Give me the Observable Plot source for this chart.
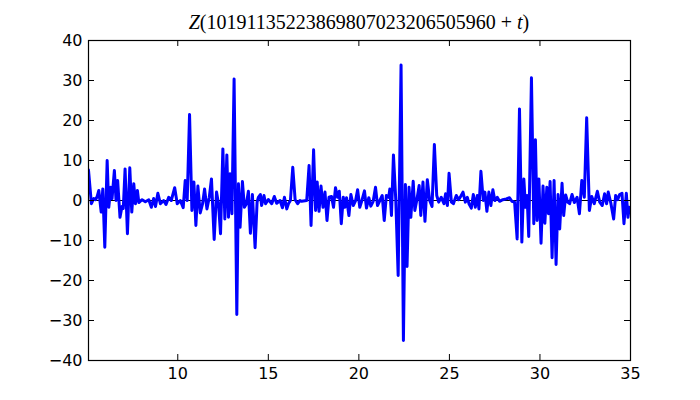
<!DOCTYPE html>
<html>
<head>
<meta charset="utf-8">
<script src="https://cdn.jsdelivr.net/npm/d3@7"></script>
<script src="https://cdn.jsdelivr.net/npm/@observablehq/plot@0.6"></script>
<style>
  html, body { margin: 0; padding: 0; background: white; }
</style>
</head>
<body>
<div id="chart"></div>
<script>
const titleParts = [
  {text: "Z", italic: true},
  {text: "(10191135223869807023206505960 + ", italic: false},
  {text: "t", italic: true},
  {text: ")", italic: false}
];
const xTicks = [10, 15, 20, 25, 30, 35];
const yTicks = [-40, -30, -20, -10, 0, 10, 20, 30, 40];
const xDomain = [5.07, 35];
const yDomain = [-40, 40];

const tValues = [
  5.07, 5.23, 5.36, 5.46, 5.55, 5.64, 5.77, 5.86, 5.97, 6.10,
  6.19, 6.30, 6.37, 6.50, 6.59, 6.68, 6.81, 6.92, 6.99, 7.09,
  7.22, 7.35, 7.46, 7.57, 7.66, 7.77, 7.85, 8.03, 8.21, 8.40,
  8.54, 8.67, 8.77, 8.90, 9.04, 9.22, 9.35, 9.50, 9.64, 9.83,
  9.97, 10.14, 10.30, 10.41, 10.52, 10.65, 10.78, 10.89, 11.00, 11.11,
  11.24, 11.37, 11.48, 11.61, 11.74, 11.86, 12.01, 12.14, 12.25, 12.36,
  12.49, 12.60, 12.71, 12.80, 12.89, 12.99, 13.11, 13.26, 13.35, 13.44,
  13.57, 13.68, 13.79, 13.90, 14.01, 14.12, 14.27, 14.38, 14.45, 14.56,
  14.63, 14.76, 14.85, 15.00, 15.19, 15.33, 15.46, 15.65, 15.78, 15.89,
  16.02, 16.11, 16.22, 16.35, 16.48, 16.62, 16.75, 16.84, 17.12, 17.25,
  17.36, 17.50, 17.61, 17.70, 17.80, 17.91, 18.02, 18.13, 18.24, 18.35,
  18.49, 18.60, 18.71, 18.82, 18.92, 19.03, 19.14, 19.23, 19.32, 19.45,
  19.56, 19.69, 19.82, 19.93, 20.05, 20.18, 20.31, 20.42, 20.55, 20.66,
  20.79, 20.92, 21.03, 21.16, 21.29, 21.40, 21.52, 21.65, 21.71, 21.80,
  21.91, 22.04, 22.17, 22.33, 22.46, 22.57, 22.66, 22.77, 22.87, 23.00,
  23.09, 23.21, 23.33, 23.42, 23.54, 23.65, 23.78, 23.91, 24.04, 24.17,
  24.30, 24.41, 24.55, 24.70, 24.79, 24.89, 24.98, 25.11, 25.22, 25.38,
  25.51, 25.62, 25.75, 25.88, 25.99, 26.08, 26.21, 26.32, 26.43, 26.54,
  26.63, 26.74, 26.87, 26.96, 27.07, 27.18, 27.29, 27.40, 27.51, 27.64,
  27.77, 27.95, 28.14, 28.32, 28.45, 28.60, 28.74, 28.87, 29.00, 29.11,
  29.20, 29.29, 29.38, 29.53, 29.66, 29.75, 29.84, 29.94, 30.06, 30.17,
  30.27, 30.38, 30.47, 30.56, 30.67, 30.78, 30.89, 31.00, 31.09, 31.22,
  31.31, 31.42, 31.53, 31.64, 31.77, 31.90, 32.05, 32.18, 32.31, 32.45,
  32.58, 32.73, 32.86, 33.00, 33.17, 33.30, 33.44, 33.57, 33.68, 33.77,
  33.92, 34.07, 34.18, 34.29, 34.40, 34.53, 34.64, 34.77, 34.86, 34.93,
  35.00
];
const zValues = [
  7.6, -0.8, 0.5, 0.2, 1.0, 2.5, -2.9, 2.9, -11.7, 10,
  -1.7, 3.3, 0.5, 7.5, 0, 5, -4.2, -1.5, -2, 7.9,
  -8.3, 8.2, -2.9, 4.2, -0.8, 2.5, -0.5, 0.2, -0.3, 0.2,
  -1.7, 0.5, -1.5, 1.8, -0.8, 0, -1, 0.8, 0, 3.2,
  -0.8, 0, -1.8, 5, 0, 21.5, -2.5, 4.6, -6.25, 3.6,
  -3.1, -0.8, 2.9, -2.1, 0.8, 5.4, -9.75, 2.1, -0.8, -8.3,
  12.9, -4.6, 11.4, -4.2, 6.7, -3.3, 30.4, -28.5, 4.2, -6.7,
  4.75, -1.7, -0.8, 2.3, -8.2, 1.5, -11.8, -0.4, 0.8, 1.5,
  -1.25, 1.25, -0.8, 0.25, -0.8, 1, -0.7, 0, -1.8, 0.8,
  -2.1, -0.8, 0, 8.3, 0.2, -0.8, 0, -0.2, 0, 8.75,
  -6.25, 12.7, -2.5, 4.6, -2.7, 3.6, -1.7, 2.1, -5, 0.8,
  1, -1.7, 3.2, 0.8, 2.3, -5.8, 0.8, -1.7, 0.7, -3.75,
  1.5, -1.25, 0, 2.7, -1.7, 0.2, 2.4, -1.9, 0.7, -1.4,
  -0.2, 3.3, -1.25, 0, 1.25, -5, 1.25, 0.8, 2.9, -3.75,
  11.4, 0, -18.75, 33.9, -35, 4, -16.5, 3.3, -4.2, 4.8,
  -2.5, 0.4, 3.75, -3.75, 4.6, -5.2, 5.2, 0, -1.5, 14,
  1.25, -0.4, 0.8, -0.8, 1.7, -1.25, 6.8, -0.4, -0.8, 1.25,
  0.2, 1, 2.1, -0.4, 0.8, -0.8, -1.9, 1.5, -1.7, 1.25,
  -2.1, 7.3, 0, 2.1, -2.7, 2.1, -1.25, 2.7, 0, 0.8,
  -0.2, 0.2, 0.4, 0.7, -0.2, -0.4, -9.6, 22.9, -10.4, 5.4,
  -1.7, 1.25, -9, 30.7, -5.8, 15.2, -5, 5.4, -10.7, 3.6,
  -5.7, 3.3, -3.3, 4.75, -14.3, 5, -16, 1.5, -7.1, 4.3,
  -3.75, 1.4, -0.4, -0.8, 1.5, -0.5, 0.8, -3.3, 5, 0.8,
  20.7, -2.5, 1, -0.8, 2.3, -0.4, -1.25, 1.7, -0.8, 2.1,
  -0.8, -4.6, 1.25, 0.2, 1.5, 1.8, -5.8, 1.8, -4.2, -1.7,
  -3
];

const data = tValues.map((t, i) => ({t, z: zValues[i]}));

const W = 700, H = 400;
const mL = 88, mR = 70, mT = 40, mB = 40;
const innerW = W - mL - mR, innerH = H - mT - mB;
const tick = 6;

const chart = Plot.plot({
  width: W,
  height: H,
  marginLeft: mL,
  marginRight: mR,
  marginTop: mT,
  marginBottom: mB,
  style: {fontFamily: "DejaVu Sans", fontSize: "16px", background: "white", color: "black"},
  x: {domain: xDomain, ticks: xTicks, tickSize: 0, tickPadding: 7, label: null, tickFormat: d => String(d)},
  y: {domain: yDomain, ticks: yTicks, tickSize: 0, tickPadding: 6, label: null},
  marks: [
    Plot.ruleY([0], {stroke: "black", strokeWidth: 1}),
    Plot.line(data, {x: "t", y: "z", stroke: "#0000ff", strokeWidth: 3, strokeLinejoin: "round", clip: true}),
    Plot.tickX(xTicks, {x: d => d, insetTop: innerH - tick, stroke: "black"}),
    Plot.tickX(xTicks, {x: d => d, insetBottom: innerH - tick, stroke: "black"}),
    Plot.tickY(yTicks, {y: d => d, insetRight: innerW - tick, stroke: "black"}),
    Plot.tickY(yTicks, {y: d => d, insetLeft: innerW - tick, stroke: "black"}),
    Plot.frame({stroke: "black", strokeWidth: 1.2})
  ]
});

const svg = d3.select(chart);
const title = svg.append("text")
  .attr("x", mL + innerW / 2)
  .attr("y", 29)
  .attr("text-anchor", "middle")
  .attr("font-family", "Liberation Serif, DejaVu Serif, serif")
  .attr("font-size", 20)
  .attr("fill", "black");
titleParts.forEach(p => {
  title.append("tspan").attr("font-style", p.italic ? "italic" : "normal").text(p.text);
});

document.getElementById("chart").appendChild(chart);
</script>
</body>
</html>
